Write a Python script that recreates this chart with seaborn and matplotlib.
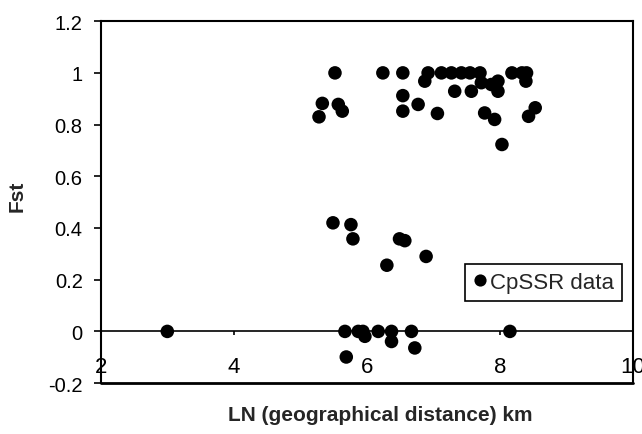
import numpy as np
import pandas as pd
import matplotlib
matplotlib.use('Agg')
import matplotlib.pyplot as plt
import seaborn as sns

# CpSSR data: LN(geographical distance) vs Fst
ln_distance = [
    5.52, 6.24, 6.54, 6.92, 7.12, 7.27, 7.42, 7.55, 7.70, 8.18, 8.33, 8.40,
    6.87, 7.32, 7.57, 7.72, 7.87, 7.97, 7.97, 8.39,
    5.33, 5.28, 5.57, 5.63, 6.54, 6.54, 6.77, 7.06, 7.77, 7.92, 8.53, 8.43,
    8.03,
    5.49, 5.76, 5.79, 6.49, 6.57, 6.89, 6.30,
    3.00, 5.67, 5.87, 5.94, 6.17, 6.37, 6.67, 8.15,
    5.97, 6.37, 6.72, 5.69,
]
fst = [
    1.00, 1.00, 1.00, 1.00, 1.00, 1.00, 1.00, 1.00, 1.00, 1.00, 1.00, 1.00,
    0.968, 0.929, 0.929, 0.962, 0.955, 0.968, 0.929, 0.968,
    0.882, 0.83, 0.878, 0.852, 0.912, 0.852, 0.878, 0.843, 0.845, 0.82, 0.865, 0.832,
    0.723,
    0.42, 0.413, 0.358, 0.358, 0.351, 0.29, 0.256,
    0.0, 0.0, 0.0, 0.0, 0.0, 0.0, 0.0, 0.0,
    -0.019, -0.039, -0.064, -0.099,
]
x_ticks = [2, 4, 6, 8, 10]
y_ticks = [-0.2, 0, 0.2, 0.4, 0.6, 0.8, 1, 1.2]

df = pd.DataFrame({'ln': ln_distance, 'fst': fst, 'series': 'CpSSR data'})

sns.set_style('white')
plt.rcParams['font.family'] = ['Liberation Sans', 'DejaVu Sans']

fig = plt.figure(figsize=(6.42, 4.35), dpi=100)
ax = fig.add_axes([0.157, 0.117, 0.829, 0.832])

sns.scatterplot(data=df, x='ln', y='fst', hue='series', palette=['black'],
                s=95, edgecolor='none', ax=ax, zorder=3, clip_on=False)

ax.set_xlim(2, 10)
ax.set_ylim(-0.2, 1.2)
ax.set_xticks(x_ticks)
ax.set_xticklabels([f'{v:g}' for v in x_ticks])
ax.set_yticks(y_ticks)
ax.set_yticklabels([f'{v:g}' for v in y_ticks])

# x axis crosses at Fst = 0, like the spreadsheet chart
ax.spines['bottom'].set_position(('data', 0))
ax.spines['bottom'].set_linewidth(1.2)
for side in ['top', 'left', 'right']:
    ax.spines[side].set_visible(True)
    ax.spines[side].set_color('black')
    ax.spines[side].set_linewidth(1.5)
ax.spines['bottom'].set_color('black')
ax.axhline(-0.2, color='black', lw=2, clip_on=False)

ax.tick_params(axis='x', direction='out', length=3, width=1.2, pad=15,
               labelsize=16, colors='black', bottom=True)
ax.tick_params(axis='y', direction='out', length=5, width=1.2, pad=8,
               labelsize=14.5, colors='black', left=True)

ax.set_xlabel('LN (geographical distance) km', fontsize=15, fontweight='bold')
ax.set_ylabel('Fst', fontsize=15, fontweight='bold')
ax.xaxis.set_label_coords(0.525, -0.06)
ax.yaxis.set_label_coords(-0.14, 0.52)

ax.legend(title=None, loc='lower right', bbox_to_anchor=(0.979, 0.227),
          borderaxespad=0, fancybox=False, edgecolor='black', framealpha=1,
          fontsize=16, handletextpad=0.1, handlelength=0.7, markerscale=0.9,
          borderpad=0.35)
ax.get_legend().get_frame().set_linewidth(1.2)

fig.savefig('out.png', dpi=100)
